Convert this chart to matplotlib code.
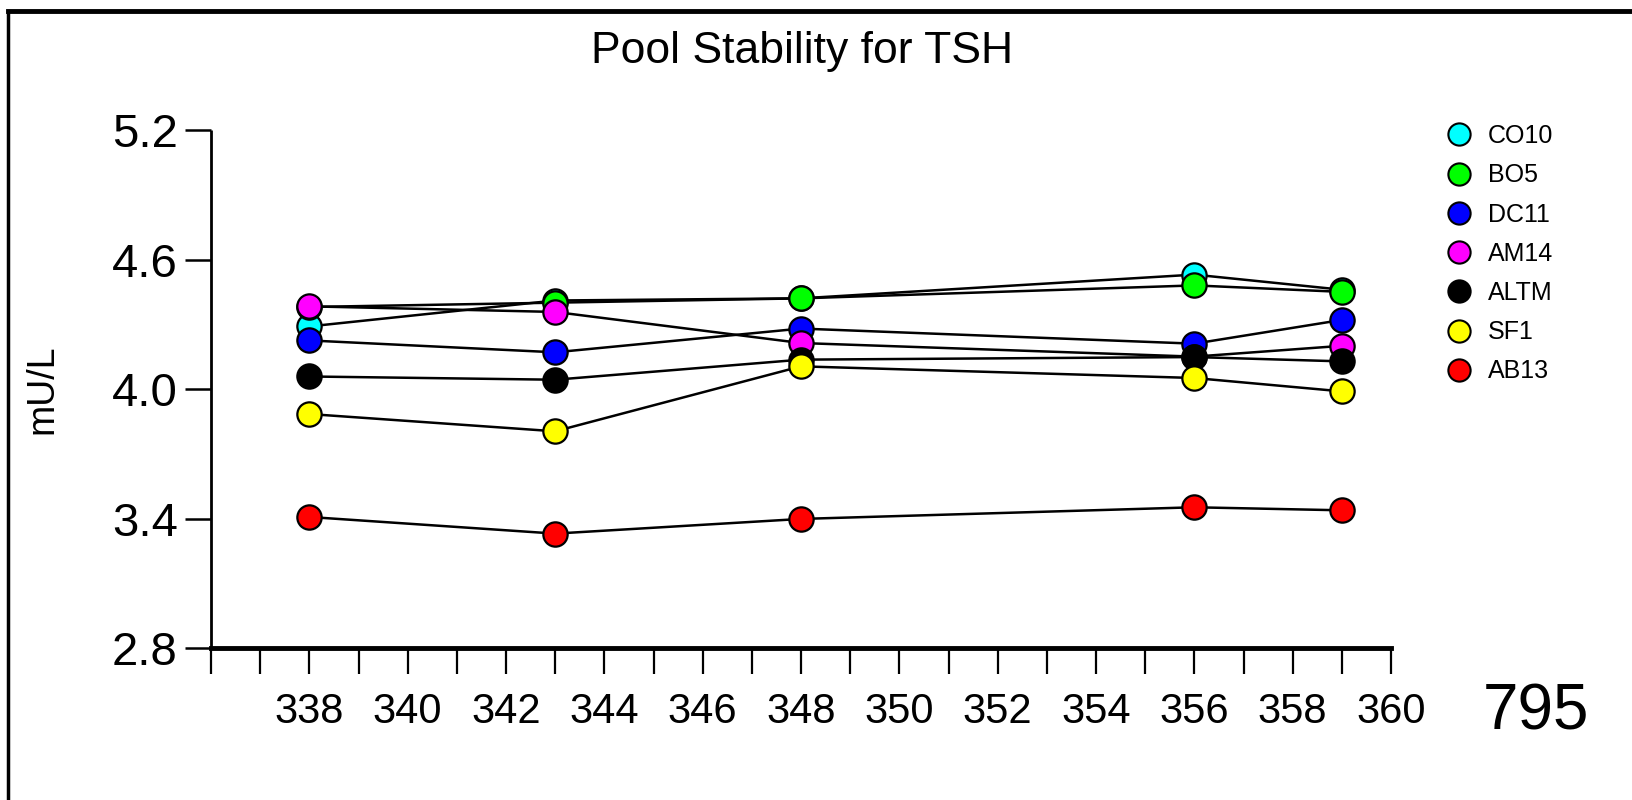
import matplotlib
matplotlib.use("Agg")
import matplotlib.pyplot as plt
from matplotlib.lines import Line2D
from matplotlib.ticker import FixedLocator

plt.rcParams['font.family'] = ['Liberation Sans', 'DejaVu Sans']

# ---- data ----
days = [338, 343, 348, 356, 359]
series_names = ["CO10", "BO5", "DC11", "AM14", "ALTM", "SF1", "AB13"]
series_colors = ["#00FFFF", "#00FF00", "#0000FF", "#FF00FF", "#000000", "#FFFF00", "#FF0000"]
co10 = [4.29, 4.41, 4.42, 4.53, 4.46]
bo5 = [4.38, 4.40, 4.42, 4.48, 4.45]
dc11 = [4.225, 4.17, 4.28, 4.21, 4.32]
am14 = [4.383, 4.357, 4.213, 4.15, 4.20]
altm = [4.058, 4.043, 4.136, 4.148, 4.128]
sf1 = [3.884, 3.804, 4.105, 4.051, 3.989]
ab13 = [3.407, 3.33, 3.398, 3.452, 3.438]
all_series = [co10, bo5, dc11, am14, altm, sf1, ab13]

x_ticks = list(range(336, 361))
x_tick_labels = [str(v) if (v % 2 == 0 and v >= 338) else "" for v in x_ticks]
y_ticks = [2.8, 3.4, 4.0, 4.6, 5.2]
y_tick_labels = ["2.8", "3.4", "4.0", "4.6", "5.2"]

title = "Pool Stability for TSH"
ylabel = "mU/L"
corner_text = "795"

# ---- figure ----
W, H = 1633, 800
fig = plt.figure(figsize=(W / 100, H / 100), dpi=100)
ax = fig.add_axes([211 / W, 1 - 648 / H, (1391 - 211) / W, (648 - 130) / H])

for vals, col in zip(all_series, series_colors):
    ax.plot(days, vals, color="black", lw=1.8, marker="o", markersize=17.5,
            markerfacecolor=col, markeredgecolor="black", markeredgewidth=1.6,
            clip_on=False)

ax.set_xlim(336, 360)
ax.set_ylim(2.8, 5.2)
ax.xaxis.set_major_locator(FixedLocator(x_ticks))
ax.set_xticklabels(x_tick_labels)
ax.set_yticks(y_ticks)
ax.set_yticklabels(y_tick_labels)

for s in ["top", "right"]:
    ax.spines[s].set_visible(False)
ax.spines["left"].set_linewidth(2.0)
ax.spines["bottom"].set_linewidth(3.5)
ax.spines["left"].set_capstyle("butt")

ax.tick_params(axis="x", direction="out", length=19, width=1.6, pad=13,
               labelsize=30)
ax.tick_params(axis="y", direction="out", length=19, width=1.8, pad=5,
               labelsize=34)

fig.text(802 / W, 1 - 51 / H, title, ha="center", va="center", fontsize=32)
fig.text(42 / W, 1 - 389 / H, ylabel, ha="center", va="center",
         rotation=90, fontsize=27)
fig.text(1536 / W, 1 - 712 / H, corner_text, ha="center", va="center",
         fontsize=46)

handles = [Line2D([], [], ls="none", marker="o", markersize=16,
                  markerfacecolor=c, markeredgecolor="black",
                  markeredgewidth=1.5) for c in series_colors]
fig.legend(handles, series_names, loc="upper left",
           bbox_to_anchor=(1444 / W, 1 - 124 / H), frameon=False,
           fontsize=18, handlelength=1.2, handletextpad=0.55,
           labelspacing=0.61, borderpad=0, borderaxespad=0)

# figure frame (top and left edges)
fig.add_artist(Line2D([8 / W, 1.0], [1 - 11 / H, 1 - 11 / H], color="black",
                      lw=3.5, transform=fig.transFigure))
fig.add_artist(Line2D([8 / W, 8 / W], [0, 1 - 11 / H], color="black",
                      lw=2.5, transform=fig.transFigure))

fig.savefig("out.png", dpi=100)
